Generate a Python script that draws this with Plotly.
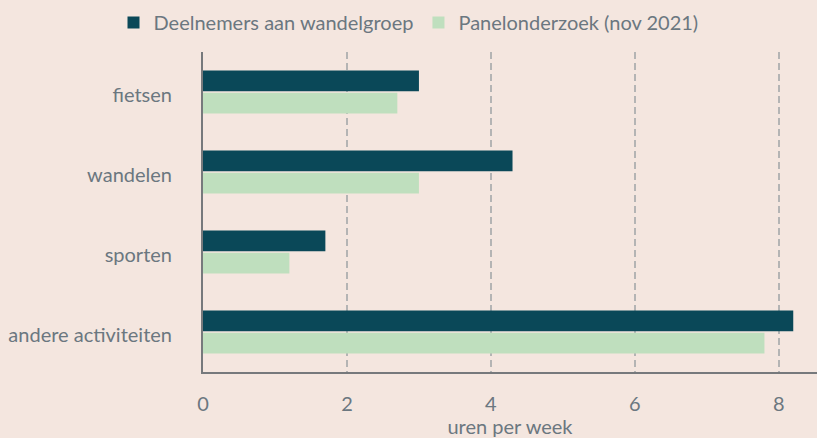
import plotly.graph_objects as go

categories = ["fietsen", "wandelen", "sporten", "andere activiteiten"]
deelnemers = [3.0, 4.3, 1.7, 8.2]
panel = [2.7, 3.0, 1.2, 7.8]
series_names = ["Deelnemers aan wandelgroep", "Panelonderzoek (nov 2021)"]
x_ticks = [0, 2, 4, 6, 8]

bg = "#f4e6df"
txt = "#6b7780"

fig = go.Figure()
fig.add_trace(go.Bar(y=categories, x=deelnemers, name=series_names[0], orientation="h",
                     marker=dict(color="#0a4858", line=dict(width=0))))
fig.add_trace(go.Bar(y=categories, x=panel, name=series_names[1], orientation="h",
                     marker=dict(color="#bfdfbe", line=dict(width=0))))

fig.update_layout(
    width=817, height=438,
    paper_bgcolor=bg, plot_bgcolor=bg,
    font=dict(family="Lato", size=20, color=txt),
    margin=dict(l=203, r=0, t=52, b=66),
    barmode="group", bargap=0.44, bargroupgap=0.07,
    showlegend=True,
    legend=dict(orientation="h", x=0.5, xanchor="center", xref="container",
                y=0.993, yanchor="top", yref="container",
                font=dict(size=20, color=txt), traceorder="normal",
                itemwidth=30, bgcolor="rgba(0,0,0,0)"),
    xaxis=dict(range=[0, 8.53], tickvals=x_ticks, showgrid=True, gridcolor="#b4b4b4",
               griddash="7px,4px", gridwidth=2, zeroline=False, showline=True,
               linecolor="#76797c", linewidth=2, ticks="", ticklabelstandoff=13,
               title=dict(text="uren per week", standoff=9, font=dict(size=20, color=txt))),
    yaxis=dict(autorange="reversed", showgrid=False, zeroline=False, showline=True,
               linecolor="#76797c", linewidth=2, ticks="", ticklabelstandoff=25,
               ticklabelshift=-3),
)

fig.write_html("out.html", config={"displayModeBar": False},
               post_script="document.body.style.margin='0';document.body.style.padding='0';")
